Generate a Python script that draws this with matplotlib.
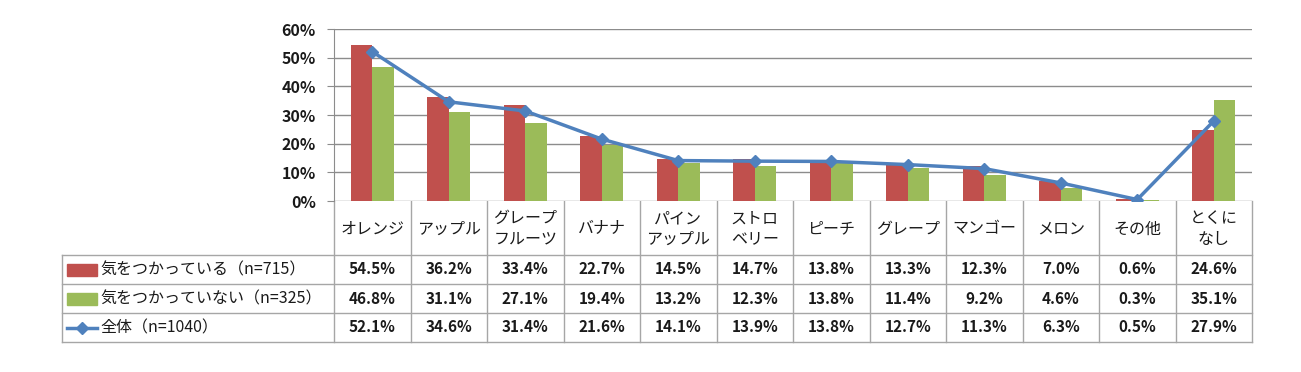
import matplotlib
matplotlib.use("Agg")
import matplotlib.pyplot as plt
import numpy as np
from matplotlib.lines import Line2D
from matplotlib.patches import Rectangle

plt.rcParams['font.family'] = ['Noto Sans CJK JP', 'DejaVu Sans']

# data
categories = ['オレンジ', 'アップル', 'グレープ\nフルーツ', 'バナナ', 'パイン\nアップル', 'ストロ\nベリー',
              'ピーチ', 'グレープ', 'マンゴー', 'メロン', 'その他', 'とくに\nなし']
series_names = ['気をつかっている（n=715）', '気をつかっていない（n=325）', '全体（n=1040）']
care = [54.5, 36.2, 33.4, 22.7, 14.5, 14.7, 13.8, 13.3, 12.3, 7.0, 0.6, 24.6]
no_care = [46.8, 31.1, 27.1, 19.4, 13.2, 12.3, 13.8, 11.4, 9.2, 4.6, 0.3, 35.1]
total = [52.1, 34.6, 31.4, 21.6, 14.1, 13.9, 13.8, 12.7, 11.3, 6.3, 0.5, 27.9]
yticks = [0, 10, 20, 30, 40, 50, 60]

RED = '#C0504D'
GREEN = '#9BBB59'
BLUE = '#4F81BD'
GRID = '#8C8C8C'
TBL = '#A6A6A6'

W, H = 1301, 372
fig = plt.figure(figsize=(W / 100, H / 100), dpi=100)

# plot area in pixels
left, right, top, bottom = 334, 1252, 29, 201
ax = fig.add_axes([left / W, 1 - bottom / H, (right - left) / W, (bottom - top) / H])
x = np.arange(len(categories))
bw = 0.28
ax.bar(x - bw / 2, care, bw, color=RED, zorder=2)
ax.bar(x + bw / 2, no_care, bw, color=GREEN, zorder=2)
ax.plot(x, total, color=BLUE, lw=2.5, marker='D', ms=6.5, zorder=3)
ax.set_xlim(-0.5, len(categories) - 0.5)
ax.set_ylim(0, 60)
ax.set_yticks(yticks)
ax.set_yticklabels([f'{v}%' for v in yticks], fontsize=11.5, fontweight='bold', color='#1a1a1a')
ax.yaxis.grid(True, color=GRID, lw=1, zorder=0)
ax.set_xticks([])
for s in ['top', 'right', 'bottom']:
    ax.spines[s].set_visible(False)
ax.spines['left'].set_color(GRID)
ax.tick_params(axis='y', length=5, color=GRID, pad=8)

# data table drawn underneath in pixel coords
tax = fig.add_axes([0, 0, 1, 1], zorder=-1)
tax.set_xlim(0, W)
tax.set_ylim(H, 0)
tax.axis('off')
colw = (right - left) / len(categories)
lab_left = 62
rows_y = [201, 255, 284, 313, 342]

for i in range(len(categories) + 1):
    xc = left + i * colw
    tax.plot([xc, xc], [rows_y[0], rows_y[-1]], color=TBL, lw=1)
tax.plot([lab_left, lab_left], [rows_y[1], rows_y[-1]], color=TBL, lw=1)
for yr in rows_y[1:]:
    tax.plot([lab_left, right], [yr, yr], color=TBL, lw=1)

for i, c in enumerate(categories):
    tax.text(left + (i + 0.5) * colw, (rows_y[0] + rows_y[1]) / 2 + 1, c, ha='center', va='center',
             fontsize=11.5, linespacing=1.25, color='#1a1a1a')

for r, vals in enumerate([care, no_care, total]):
    yc = (rows_y[r + 1] + rows_y[r + 2]) / 2
    for i, v in enumerate(vals):
        tax.text(left + (i + 0.5) * colw, yc, f'{v:.1f}%', ha='center', va='center',
                 fontsize=11, fontweight='bold', color='#1a1a1a')
    tax.text(100, yc, series_names[r], ha='left', va='center', fontsize=11.5, color='#1a1a1a')

# legend keys in row labels
for r, col in enumerate([RED, GREEN]):
    yc = (rows_y[r + 1] + rows_y[r + 2]) / 2
    tax.add_patch(Rectangle((67, yc - 6), 30, 12, color=col))
yc = (rows_y[3] + rows_y[4]) / 2
tax.plot([67, 97], [yc, yc], color=BLUE, lw=2.5)
tax.plot([82], [yc], marker='D', ms=6.5, color=BLUE)

fig.savefig('out.png', dpi=100)
